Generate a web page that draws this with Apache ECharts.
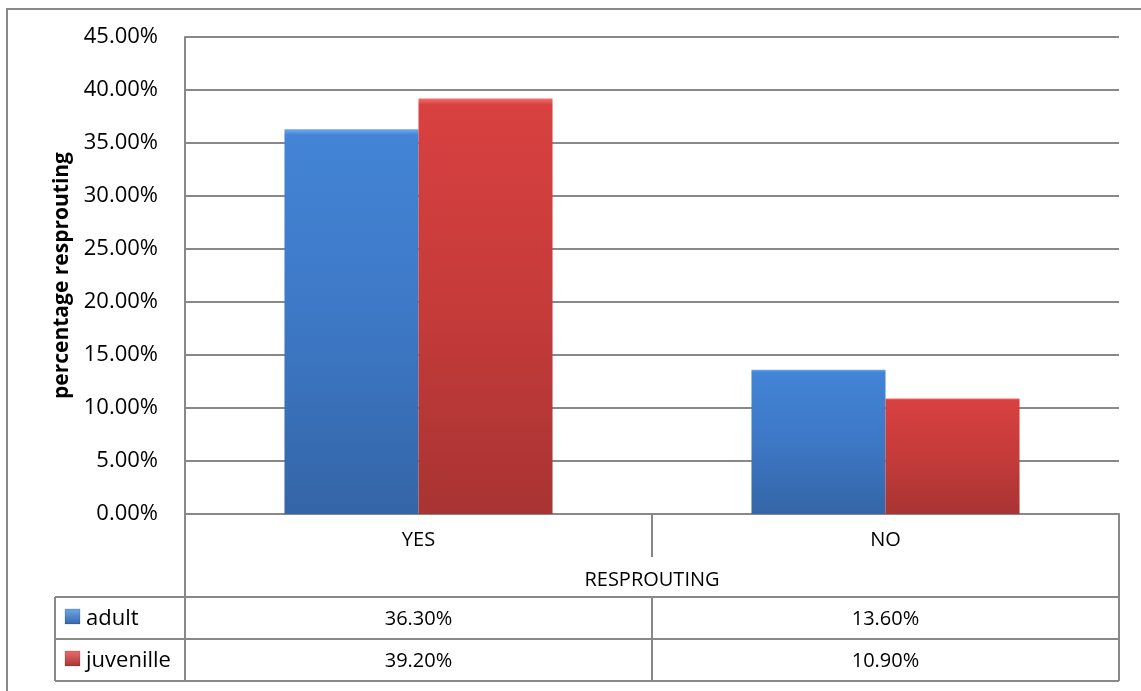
<!DOCTYPE html>
<html>
<head>
<meta charset="utf-8">
<title>Resprouting</title>
<script src="https://cdn.jsdelivr.net/npm/echarts@6/dist/echarts.min.js"></script>
<style>
  html, body { margin: 0; padding: 0; background: #fff; }
  #chart { width: 1141px; height: 691px; }
</style>
</head>
<body>
<div id="chart"></div>
<script>
// Data
const categories = ['YES', 'NO'];
const seriesNames = ['adult', 'juvenille'];
const adult = [36.3, 13.6];
const juvenile = [39.2, 10.9];
const yMin = 0, yMax = 45, yStep = 5;
const yTitle = 'percentage resprouting';
const xTitle = 'RESPROUTING';

// Layout
const W = 1141, H = 691;
const G = { left: 185, right: 22, top: 37, bottom: 177 };
const plotRight = W - G.right;
const plotBottom = H - G.bottom;
const rowLines = [597, 639, 681];
const tableLeft = 55;
const lineColor = '#888888';
const FONT = '"Open Sans", "Noto Sans", sans-serif';
const fmt = v => v.toFixed(2) + '%';

function barFill(top, mid, bottom, edge) {
  return new echarts.graphic.LinearGradient(0, 0, 0, 1, [
    { offset: 0, color: edge },
    { offset: 0.015, color: top },
    { offset: 0.5, color: mid },
    { offset: 1, color: bottom }
  ]);
}
const blueFill = barFill('#4384d6', '#3d78c5', '#3465a7', '#6eaaf0');
const redFill = barFill('#d84140', '#c53b3a', '#a83433', '#f07070');
const fills = [blueFill, redFill];
const iconFills = [
  new echarts.graphic.LinearGradient(0, 0, 0, 1, [{ offset: 0, color: '#6ea9ec' }, { offset: 1, color: '#3566a8' }]),
  new echarts.graphic.LinearGradient(0, 0, 0, 1, [{ offset: 0, color: '#ec6e6e' }, { offset: 1, color: '#a83434' }])
];

const chart = echarts.init(document.getElementById('chart'), null, { renderer: 'canvas' });

const barStyle = fill => ({
  color: fill,
  shadowColor: 'rgba(0,0,0,0.35)',
  shadowBlur: 4,
  shadowOffsetX: 1,
  shadowOffsetY: 0
});

chart.setOption({
  animation: false,
  textStyle: { fontFamily: FONT },
  grid: G,
  xAxis: {
    type: 'category',
    data: categories,
    axisLine: { lineStyle: { color: lineColor, width: 2 } },
    axisTick: { show: true, length: 43, alignWithLabel: false, lineStyle: { color: lineColor, width: 2 } },
    axisLabel: { color: '#000', fontSize: 20, fontFamily: FONT, margin: 16 },
    name: xTitle,
    nameLocation: 'middle',
    nameGap: 56,
    nameTextStyle: { color: '#000', fontSize: 20, fontFamily: FONT }
  },
  yAxis: {
    type: 'value',
    min: yMin, max: yMax, interval: yStep,
    axisLine: { show: true, lineStyle: { color: lineColor, width: 2 } },
    axisTick: { show: false },
    splitLine: { lineStyle: { color: lineColor, width: 2 } },
    axisLabel: { color: '#000', fontSize: 22, fontFamily: FONT, margin: 27, formatter: fmt },
    name: yTitle,
    nameLocation: 'middle',
    nameRotate: 90,
    nameGap: 112,
    nameTextStyle: { color: '#000', fontSize: 21, fontWeight: 'bold', fontFamily: FONT }
  },
  series: [
    { name: seriesNames[0], type: 'bar', data: adult, barGap: '0%', barCategoryGap: '42.6%', itemStyle: barStyle(fills[0]) },
    { name: seriesNames[1], type: 'bar', data: juvenile, barGap: '0%', barCategoryGap: '42.6%', itemStyle: barStyle(fills[1]) }
  ]
});

// Data table under the plot, aligned to the category axis
function buildTable() {
  const els = [];
  const line = (x1, y1, x2, y2) => els.push({
    type: 'line', silent: true,
    shape: { x1, y1, x2, y2 },
    style: { stroke: lineColor, lineWidth: 2 }
  });
  // outer frame
  els.push({ type: 'rect', silent: true, shape: { x: 7, y: 9, width: 1200, height: 800 }, style: { fill: null, stroke: lineColor, lineWidth: 2 } });
  // right edge of the table
  line(plotRight, plotBottom, plotRight, rowLines[2]);
  // left edge continuing below the axis
  line(G.left, plotBottom, G.left, rowLines[2]);
  // legend column
  line(tableLeft, rowLines[0], tableLeft, rowLines[2]);
  rowLines.forEach(y => line(tableLeft, y, plotRight, y));
  // column divider between categories in value rows
  const mid = (G.left + plotRight) / 2;
  line(mid, rowLines[0], mid, rowLines[2]);

  const rows = [adult, juvenile];
  rows.forEach((vals, r) => {
    const yc = (rowLines[r] + rowLines[r + 1]) / 2;
    els.push({
      type: 'rect', silent: true,
      shape: { x: 65, y: yc - 9, width: 15, height: 15 },
      style: { fill: iconFills[r], stroke: 'rgba(0,0,0,0.15)', lineWidth: 1 }
    });
    els.push({
      type: 'text', silent: true,
      style: { x: 86, y: yc + 1, text: seriesNames[r], fill: '#000', font: '22px ' + FONT, textAlign: 'left', textVerticalAlign: 'middle' }
    });
    vals.forEach((v, c) => {
      const xc = chart.convertToPixel({ xAxisIndex: 0 }, categories[c]);
      els.push({
        type: 'text', silent: true,
        style: { x: xc, y: yc + 1, text: fmt(v), fill: '#000', font: '20px ' + FONT, textAlign: 'center', textVerticalAlign: 'middle' }
      });
    });
  });
  chart.setOption({ graphic: { elements: els } });
}
buildTable();
</script>
</body>
</html>
